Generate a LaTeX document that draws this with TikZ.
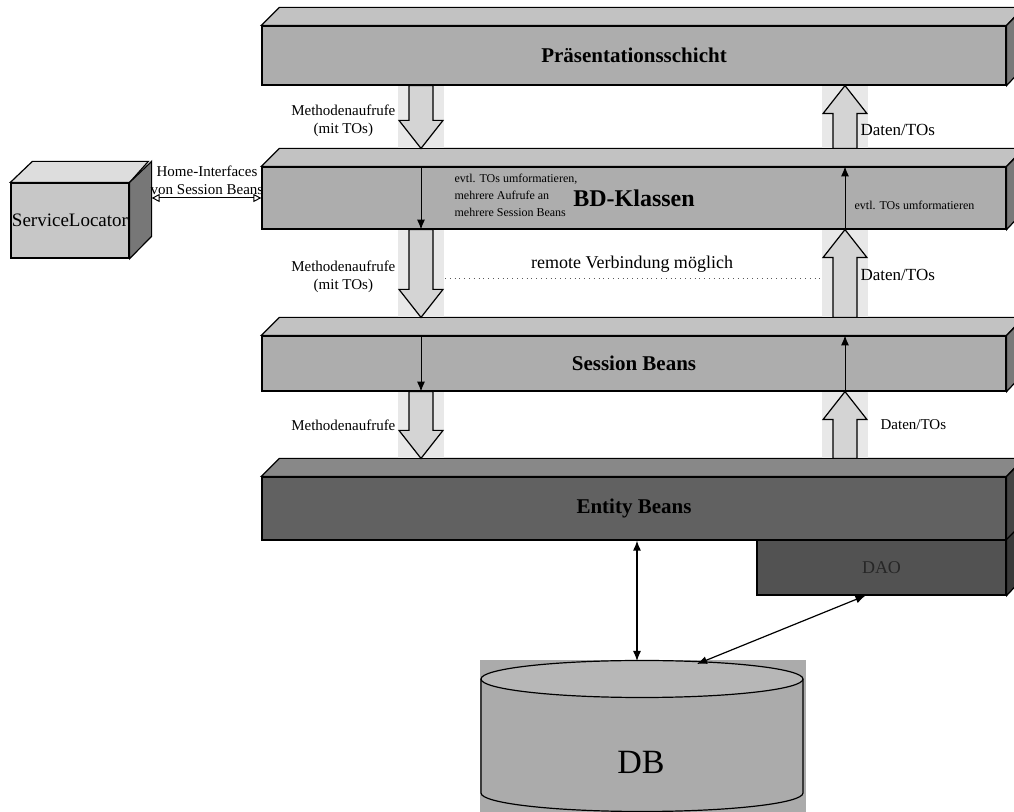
\documentclass[tikz,border=0pt]{standalone}
\usepackage{fontspec}
\setmainfont{Liberation Serif}
\usetikzlibrary{calc,arrows.meta,positioning}

% hohler Blockpfeil von #1 nach #2
\newcommand{\hollow}[2]{%
  \path (#1) coordinate (s) (#2) coordinate (e) ($(e)!14pt!(s)$) coordinate (h);
  \fill[arrbg] ($(s)!11.5pt!90:(e)$) rectangle ($(e)!11.5pt!90:(s)$);
  \draw[arrbody] ($(s)!6pt!90:(e)$) -- ($(h)!6pt!90:(e)$) -- ($(h)!11pt!90:(e)$)
    -- (e) -- ($(h)!11pt!-90:(e)$) -- ($(h)!6pt!-90:(e)$) -- ($(s)!6pt!-90:(e)$) -- cycle;
}

\begin{document}
\begin{tikzpicture}[x=0.5pt,y=-0.5pt,line width=0.6pt,
  layer/.style={draw,minimum width=372pt,font=\fontsize{10.5}{12}\selectfont\bfseries},
  lbl/.style={font=\fontsize{7.5}{9}\selectfont,align=center,inner sep=1pt},
  small/.style={font=\fontsize{6}{8.5}\selectfont,align=left,inner sep=1pt},
  arrbg/.style={fill=black!9},
  arrbody/.style={draw,fill=black!17},
  thinarr/.style={-{Latex[length=5pt,width=4pt]},line width=0.5pt},
  dbl/.style={{Latex[length=5pt,width=4pt]}-{Latex[length=5pt,width=4pt]}},
  slarr/.style={{Triangle[open,length=4pt,width=4pt]}-{Triangle[open,length=4pt,width=4pt]},line width=0.5pt}]
  \colorlet{barcol}{black!32}%
  \colorlet{entcol}{black!62}%
  \colorlet{daocol}{black!68}%
  \colorlet{slcol}{black!22}%
  \colorlet{dbcol}{black!33}%
  \useasboundingbox (0,0) rectangle (1014,812);

  % Schichten
  \foreach \nm/\yt/\yb/\col/\txt in {pres/26/85/barcol/Präsentationsschicht,
      bd/167/229/barcol/{\fontsize{12}{14}\selectfont BD-Klassen},
      sb/336/391/barcol/Session Beans, eb/477/540/entcol/Entity Beans}{
    \node[layer,fill=\col,minimum height={(\yb-\yt)*0.5pt}] (\nm) at (634,{(\yt+\yb)/2}) {\txt};
    \draw[fill=\col!75!white] (\nm.north west) -- ++(18,-18) -- ++(744,0) -- (\nm.north east) -- cycle;
    \draw[fill=\col!70!black] (\nm.north east) -- ++(18,-18) -- ++(0,\yb-\yt) -- (\nm.south east) -- cycle;
  }
  \node[draw,fill=daocol,minimum width=124.5pt,minimum height=27.5pt,
    font=\fontsize{9}{11}\selectfont,text=black!85] (dao) at (881.5,567.5) {DAO};
  \draw[fill=daocol!70!black] (dao.north east) -- ++(18,-18) -- ++(0,55) -- (dao.south east) -- cycle;

  % ServiceLocator
  \node[draw,fill=slcol,minimum width=58pt,minimum height=37.5pt,inner sep=0.5pt,
    font=\fontsize{9.5}{11}\selectfont] (sl) at (70,220.5) {ServiceLocator};
  \draw[fill=slcol!60!white] (sl.north west) -- ++(22,-21) -- ++(116,0) -- (sl.north east) -- cycle;
  \draw[fill=slcol!60!black] (sl.north east) -- ++(22,-21) -- ++(0,75) -- (sl.south east) -- cycle;
  \node[lbl] (hi) at (207,180) {Home-Interfaces\\von Session Beans};
  \draw[slarr] ([xshift=11pt]sl.east |- bd.west) -- (bd.west);

  % Pfeile zwischen den Schichten
  \coordinate (lx) at (421,0);
  \coordinate (rx) at (845,0);
  \hollow{pres.south -| lx}{[yshift=9pt]bd.north -| lx}
  \hollow{bd.south -| lx}{[yshift=9pt]sb.north -| lx}
  \hollow{sb.south -| lx}{[yshift=9pt]eb.north -| lx}
  \hollow{[yshift=9pt]bd.north -| rx}{pres.south -| rx}
  \hollow{[yshift=9pt]sb.north -| rx}{bd.south -| rx}
  \hollow{[yshift=9pt]eb.north -| rx}{sb.south -| rx}
  \draw[thinarr] (bd.north -| lx) -- (bd.south -| lx);
  \draw[thinarr] (bd.south -| rx) -- (bd.north -| rx);
  \draw[thinarr] (sb.north -| lx) -- (sb.south -| lx);
  \draw[thinarr] (sb.south -| rx) -- (sb.north -| rx);

  \node[lbl,anchor=east] (m1) at (398,121) {Methodenaufrufe\\(mit TOs)};
  \node[lbl,anchor=west,font=\fontsize{8.5}{10}\selectfont] (d1) at (858,130) {Daten/TOs};
  \node[small,anchor=north west] (bdtxt) at (452,171) {evtl. TOs umformatieren,\\mehrere Aufrufe an\\mehrere Session Beans};
  \node[small,anchor=west] (rtxt) at (852,205) {evtl. TOs umformatieren};
  \node[lbl,anchor=east] (m2) at (398,277) {Methodenaufrufe\\(mit TOs)};
  \node[font=\fontsize{9}{11}\selectfont] (rv) at (632,264) {remote Verbindung möglich};
  \coordinate (rl) at (445,278);
  \coordinate (rr) at (822,278);
  \draw[dotted,black!65,line width=0.4pt] (rl) -- (rr);
  \node[lbl,anchor=west,font=\fontsize{8.5}{10}\selectfont] (d2) at (858,275) {Daten/TOs};
  \node[lbl,anchor=east] (m3) at (398,425) {Methodenaufrufe};
  \node[lbl,anchor=west] (d3) at (878,425) {Daten/TOs};

  % DB
  \fill[dbcol] (480,660) rectangle (806,812);
  \draw[fill=dbcol] (481,679) -- (481,793) arc[start angle=180,end angle=0,x radius=161,y radius=18.5] -- (803,679);
  \draw[fill=dbcol!85!white] (642,679) ellipse[x radius=161,y radius=18.5];
  \node[font=\fontsize{17}{20}\selectfont] (db) at (641,762) {DB};
  \coordinate (dbtop) at (637,661);
  \coordinate (dbdao) at (697,664);
  \draw[dbl] (eb.south -| dbtop) -- (dbtop);
  \draw[dbl] ([xshift=-8pt]dao.south) -- (dbdao);
\end{tikzpicture}
\end{document}
